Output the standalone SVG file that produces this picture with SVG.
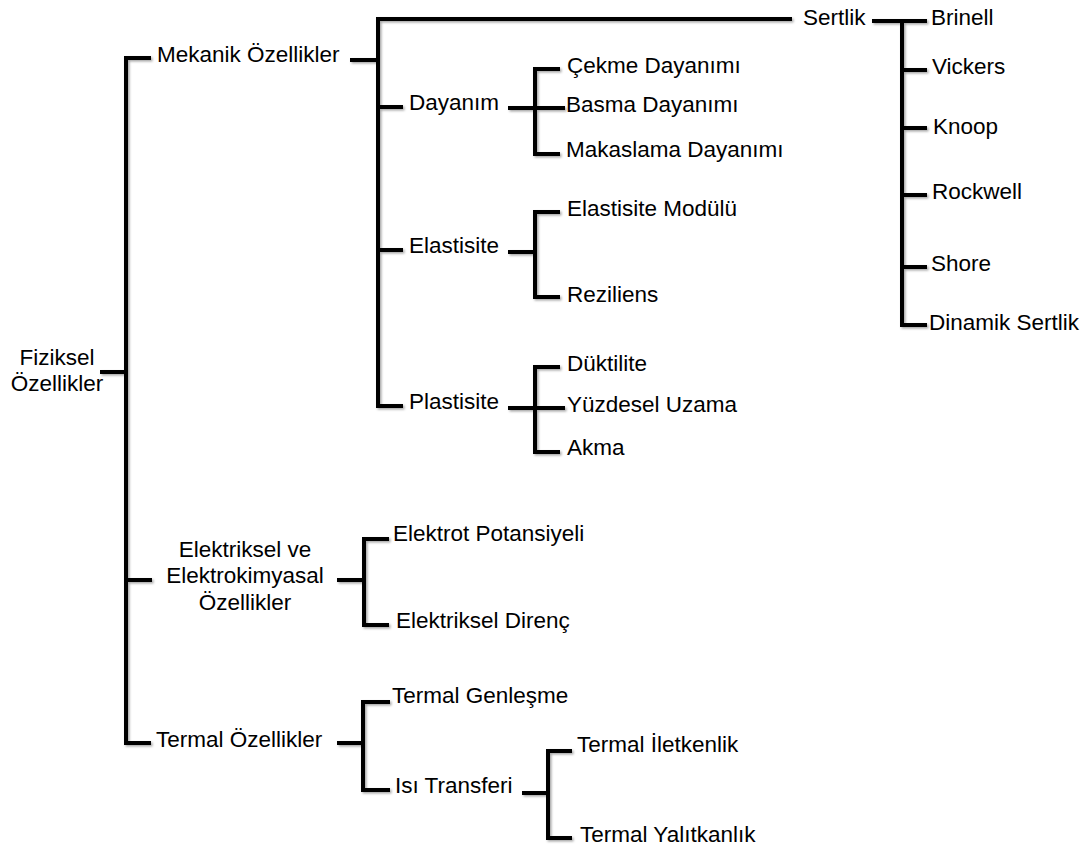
<svg xmlns="http://www.w3.org/2000/svg" width="1091" height="848" viewBox="0 0 1091 848">
<defs>
<filter id="sh" x="-5%" y="-5%" width="110%" height="110%">
<feDropShadow dx="1.5" dy="1.5" stdDeviation="1" flood-color="#000" flood-opacity="0.35"/>
</filter>
</defs>
<style>
text{font-family:"Liberation Sans",Arial,Helvetica,sans-serif;font-size:22.5px;fill:#000}
.c{text-anchor:middle}
.ln path{fill:none;stroke:#000;stroke-width:4;stroke-linejoin:miter;stroke-linecap:butt}
</style>
<rect width="1091" height="848" fill="#fff"/>
<g class="ln" id="connectors" filter="url(#sh)">
<path d="M100,372H126"/>
<path d="M151,58H126V743H151"/>
<path d="M126,580H152"/>
<path d="M350,60H378"/>
<path d="M792,19H378V406H403"/>
<path d="M378,107H403"/>
<path d="M378,250H403"/>
<path d="M508,108H565"/>
<path d="M560,69H535V154H560"/>
<path d="M508,252H535"/>
<path d="M560,212H535V297H560"/>
<path d="M508,408H565"/>
<path d="M560,367H535V452H560"/>
<path d="M872,21H927"/>
<path d="M902,21V325H927"/>
<path d="M902,70H927"/>
<path d="M902,128H927"/>
<path d="M902,195H927"/>
<path d="M902,267H927"/>
<path d="M337,580H364"/>
<path d="M389,539H364V625H389"/>
<path d="M337,743H363"/>
<path d="M390,702H363V790H390"/>
<path d="M522,793H548"/>
<path d="M572,751H548V838H572"/>
</g>
<g id="n-fiziksel"><text class="c" x="57" y="365">Fiziksel</text><text class="c" x="57" y="391">Özellikler</text></g>
<g id="n-mekanik"><text x="157" y="62">Mekanik Özellikler</text></g>
<g id="n-sertlik"><text x="803" y="25">Sertlik</text></g>
<g id="n-dayanim"><text x="409" y="110">Dayanım</text></g>
<g id="n-cekme"><text x="567" y="73">Çekme Dayanımı</text></g>
<g id="n-basma"><text x="566" y="112">Basma Dayanımı</text></g>
<g id="n-makaslama"><text x="566" y="157">Makaslama Dayanımı</text></g>
<g id="n-elastisite"><text x="409" y="253">Elastisite</text></g>
<g id="n-elmod"><text x="567" y="216">Elastisite Modülü</text></g>
<g id="n-reziliens"><text x="567" y="302">Reziliens</text></g>
<g id="n-plastisite"><text x="409" y="409">Plastisite</text></g>
<g id="n-duktilite"><text x="567" y="371">Düktilite</text></g>
<g id="n-uzama"><text x="567" y="412">Yüzdesel Uzama</text></g>
<g id="n-akma"><text x="567" y="455">Akma</text></g>
<g id="n-brinell"><text x="931" y="25">Brinell</text></g>
<g id="n-vickers"><text x="932" y="74">Vickers</text></g>
<g id="n-knoop"><text x="933" y="134">Knoop</text></g>
<g id="n-rockwell"><text x="932" y="199">Rockwell</text></g>
<g id="n-shore"><text x="931" y="271">Shore</text></g>
<g id="n-dinamik"><text x="929" y="330">Dinamik Sertlik</text></g>
<g id="n-elektriksel"><text class="c" x="245" y="557">Elektriksel ve</text><text class="c" x="245" y="583">Elektrokimyasal</text><text class="c" x="245" y="610">Özellikler</text></g>
<g id="n-potansiyel"><text x="393" y="541">Elektrot Potansiyeli</text></g>
<g id="n-direnc"><text x="396" y="628">Elektriksel Direnç</text></g>
<g id="n-termal"><text x="156" y="747">Termal Özellikler</text></g>
<g id="n-genlesme"><text x="392" y="703">Termal Genleşme</text></g>
<g id="n-isi"><text x="395" y="793">Isı Transferi</text></g>
<g id="n-iletkenlik"><text x="577" y="752">Termal İletkenlik</text></g>
<g id="n-yalitkanlik"><text x="580" y="842">Termal Yalıtkanlık</text></g>
</svg>
